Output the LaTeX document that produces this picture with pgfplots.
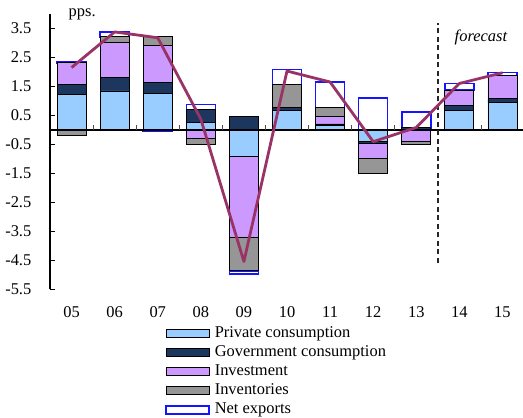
\documentclass[border=0pt]{standalone}
\usepackage{fontspec}
\setmainfont{Liberation Serif}
\usepackage{pgfplots}
\usepackage{pgfplotstable}
\pgfplotsset{compat=1.18}

\definecolor{privc}{RGB}{153,204,255}
\definecolor{govc}{RGB}{28,54,94}
\definecolor{invc}{RGB}{204,153,255}
\definecolor{stockc}{RGB}{150,150,150}
\definecolor{gdpc}{RGB}{153,51,102}
\definecolor{nxc}{RGB}{20,20,255}

% positive parts of the contributions (stacked up from zero)
\pgfplotstableread{
x pc gc inv invt nx
0 1.22 0.36 0.73 0 0.05
1 1.34 0.46 1.22 0.19 0.17
2 1.26 0.36 1.28 0.31 0
3 0.25 0.45 0 0 0.18
4 0 0.45 0 0 0
5 0.68 0.08 0 0.81 0.51
6 0.14 0.06 0.25 0.32 0.89
7 0 0 0 0 1.10
8 0.02 0.05 0 0 0.54
9 0.68 0.17 0.52 0 0.23
10 0.93 0.14 0.79 0 0.12
}\pos

% negative parts (stacked down from zero)
\pgfplotstableread{
x pc gc inv invt nx
0 0 0 0 -0.18 0
1 0 0 0 0 0
2 0 0 0 0 -0.05
3 0 0 -0.30 -0.20 0
4 -0.92 0 -2.79 -1.16 -0.11
5 0 0 0 0 0
6 0 0 0 0 0
7 -0.39 -0.08 -0.52 -0.52 0
8 0 0 -0.39 -0.13 0
9 0 0 0 0 0
10 0 0 0 0 0
}\neg

% GDP growth
\pgfplotstableread{
x gdp
0 2.15
1 3.38
2 3.18
3 0.37
4 -4.55
5 2.03
6 1.65
7 -0.41
8 0.08
9 1.60
10 1.97
}\gdp

\pgfplotsset{
  base/.style={scale only axis, width=474bp, height=275bp,
    xmin=-0.5, xmax=10.5, ymin=-5.5, ymax=4, clip=false},
  stk/.style={ybar stacked, bar width=29bp},
  seg/.style={draw=black, line width=0.9bp, fill=#1,
    legend image code/.code={\draw[##1] (0bp,-4bp) rectangle (43bp,4bp);}},
  nxseg/.style={draw=nxc, line width=1.6bp, fill=white,
    legend image code/.code={\draw[##1] (0bp,-4bp) rectangle (43bp,4bp);}},
}

\begin{document}
\fontsize{16.5}{19}\selectfont
\begin{tikzpicture}
\begin{axis}[base, stk,
  axis y line*=left, axis x line*=bottom,
  x axis line style={draw=none}, xtick style={draw=none},
  y axis line style={line width=1.8bp},
  ytick={-5.5,-4.5,-3.5,-2.5,-1.5,-0.5,0.5,1.5,2.5,3.5},
  yticklabels={-5.5,-4.5,-3.5,-2.5,-1.5,-0.5,0.5,1.5,2.5,3.5},
  ytick style={black, line width=0.6bp},
  tick align=inside, major tick length=5bp,
  xtick={0,1,2,3,4,5,6,7,8,9,10},
  xticklabels={05,06,07,08,09,10,11,12,13,14,15},
  xticklabel style={yshift=-12bp},
  yticklabel style={xshift=-13bp},
  legend cell align=left,
  legend style={at={(axis description cs:0.2426,-0.133)}, anchor=north west,
    draw=none, fill=none, inner sep=0pt, row sep=3bp,
    nodes={inner sep=0pt, text height=12bp, text depth=4bp},
    /tikz/every odd column/.append style={column sep=5bp}},
]
\addplot[seg=privc] table[x=x,y=pc]{\pos};
\addlegendentry{Private consumption}
\addplot[seg=govc] table[x=x,y=gc]{\pos};
\addlegendentry{Government consumption}
\addplot[seg=invc] table[x=x,y=inv]{\pos};
\addlegendentry{Investment}
\addplot[seg=stockc] table[x=x,y=invt]{\pos};
\addlegendentry{Inventories}
\addplot[nxseg] table[x=x,y=nx]{\pos};
\addlegendentry{Net exports}
\node[anchor=base west, xshift=13bp, yshift=-3bp] at (rel axis cs:0,1) {pps.};
\end{axis}

\begin{axis}[base, stk, hide axis]
\addplot[seg=privc] table[x=x,y=pc]{\neg};
\addplot[seg=govc] table[x=x,y=gc]{\neg};
\addplot[seg=invc] table[x=x,y=inv]{\neg};
\addplot[seg=stockc] table[x=x,y=invt]{\neg};
\addplot[nxseg] table[x=x,y=nx]{\neg};
\end{axis}

\begin{axis}[base, hide axis]
\draw[black, line width=1.8bp] (axis cs:-0.5,0) -- (axis cs:10.5,0);
\pgfplotsinvokeforeach{0.5,1.5,2.5,3.5,4.5,5.5,6.5,7.5,9.5}{
  \draw[black!70, line width=0.6bp] (axis cs:#1,0) -- ([yshift=5bp]axis cs:#1,0);
}
\addplot[black!85, line width=1.5bp, dash pattern=on 5bp off 3.5bp, mark=none]
  coordinates {(8.5,-4.6) (8.5,3.68)};
\addplot[gdpc, line width=2.8bp, line join=round, mark=none] table[x=x,y=gdp]{\gdp};
\node[font=\itshape] at (axis cs:9.5,3.2) {forecast};
\end{axis}

\pgfresetboundingbox
\path[use as bounding box] (-50bp,-129bp) rectangle (473bp,289bp);
\end{tikzpicture}
\end{document}
